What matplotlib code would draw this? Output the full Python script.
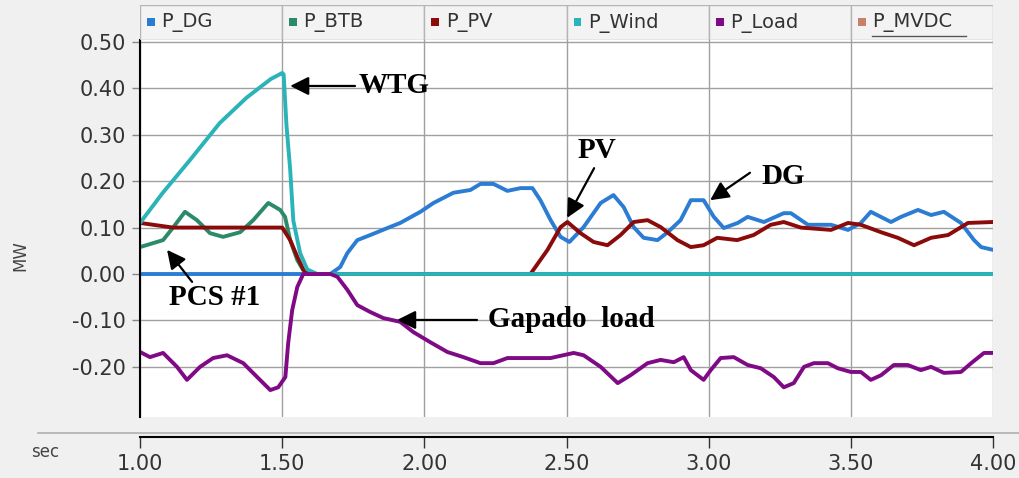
import matplotlib
matplotlib.use("Agg")
import matplotlib.pyplot as plt
from matplotlib.lines import Line2D
from matplotlib.patches import Rectangle

# ==============================
# dados (MW x sec)
# ==============================
dg_t = [1.00, 1.669, 1.704, 1.729, 1.764, 1.81, 1.87, 1.915, 1.986, 2.032, 2.102, 2.162, 2.197,
        2.243, 2.292, 2.338, 2.38, 2.408, 2.444, 2.479, 2.51, 2.56, 2.62, 2.665, 2.701, 2.736,
        2.771, 2.82, 2.856, 2.901, 2.937, 2.982, 3.018, 3.053, 3.102, 3.137, 3.194, 3.264, 3.289,
        3.349, 3.43, 3.49, 3.535, 3.57, 3.641, 3.676, 3.736, 3.782, 3.827, 3.887, 3.933, 3.958, 4.00]
dg_p = [0.0, 0.0, 0.015, 0.045, 0.073, 0.084, 0.099, 0.11, 0.134, 0.153, 0.175, 0.181, 0.194,
        0.194, 0.179, 0.185, 0.185, 0.159, 0.116, 0.08, 0.069, 0.101, 0.153, 0.17, 0.144, 0.101,
        0.078, 0.073, 0.09, 0.116, 0.159, 0.159, 0.123, 0.099, 0.11, 0.123, 0.112, 0.131, 0.131,
        0.106, 0.106, 0.095, 0.11, 0.134, 0.112, 0.123, 0.138, 0.127, 0.134, 0.11, 0.073, 0.058, 0.052]

btb_t = [1.00, 1.081, 1.116, 1.158, 1.20, 1.246, 1.292, 1.352, 1.398, 1.451, 1.493, 1.51, 1.528,
         1.553, 1.574, 1.60, 4.00]
btb_p = [0.058, 0.073, 0.10, 0.134, 0.116, 0.088, 0.08, 0.09, 0.116, 0.153, 0.138, 0.123, 0.073,
         0.03, 0.008, 0.0, 0.0]

pv_t = [1.00, 1.116, 1.30, 1.50, 1.528, 1.553, 1.574, 1.592, 2.373, 2.433, 2.479, 2.503, 2.549,
        2.595, 2.644, 2.69, 2.736, 2.785, 2.831, 2.89, 2.937, 2.982, 3.03, 3.10, 3.158, 3.218,
        3.264, 3.324, 3.43, 3.49, 3.535, 3.606, 3.665, 3.722, 3.782, 3.842, 3.912, 4.00]
pv_p = [0.11, 0.10, 0.10, 0.10, 0.073, 0.037, 0.01, 0.0, 0.0, 0.052, 0.101, 0.112, 0.088,
        0.069, 0.062, 0.084, 0.112, 0.116, 0.101, 0.073, 0.058, 0.062, 0.078, 0.073, 0.084, 0.106,
        0.112, 0.10, 0.095, 0.11, 0.106, 0.09, 0.078, 0.062, 0.078, 0.084, 0.11, 0.112]

wind_t = [1.00, 1.08, 1.175, 1.28, 1.375, 1.46, 1.50, 1.505, 1.515, 1.528, 1.539, 1.563, 1.588,
          1.623, 4.00]
wind_p = [0.11, 0.175, 0.245, 0.325, 0.38, 0.42, 0.433, 0.43, 0.32, 0.225, 0.115, 0.045, 0.01,
          0.0, 0.0]

load_t = [1.00, 1.035, 1.081, 1.13, 1.165, 1.211, 1.257, 1.306, 1.363, 1.412, 1.458, 1.486,
          1.511, 1.521, 1.535, 1.553, 1.574, 1.67, 1.694, 1.729, 1.764, 1.81, 1.856, 1.915, 1.961,
          2.021, 2.081, 2.137, 2.197, 2.243, 2.292, 2.363, 2.444, 2.525, 2.56, 2.62, 2.68, 2.725,
          2.785, 2.831, 2.877, 2.912, 2.937, 2.982, 3.007, 3.042, 3.088, 3.137, 3.183, 3.229,
          3.264, 3.299, 3.335, 3.37, 3.419, 3.454, 3.50, 3.535, 3.57, 3.606, 3.651, 3.70, 3.746,
          3.782, 3.827, 3.887, 3.923, 3.968, 4.00]
load_p = [-0.168, -0.179, -0.17, -0.20, -0.228, -0.20, -0.181, -0.175, -0.192, -0.222, -0.25,
          -0.244, -0.222, -0.149, -0.078, -0.028, 0.0, 0.0, -0.006, -0.034, -0.067, -0.082, -0.095,
          -0.103, -0.125, -0.147, -0.168, -0.179, -0.192, -0.192, -0.181, -0.181, -0.181, -0.17,
          -0.175, -0.20, -0.235, -0.218, -0.192, -0.185, -0.19, -0.179, -0.207, -0.228, -0.207,
          -0.181, -0.179, -0.196, -0.203, -0.222, -0.244, -0.235, -0.20, -0.192, -0.192, -0.203,
          -0.211, -0.211, -0.228, -0.218, -0.196, -0.196, -0.207, -0.20, -0.213, -0.211, -0.192,
          -0.17, -0.17]

labels = ["P_DG", "P_BTB", "P_PV", "P_Wind", "P_Load", "P_MVDC"]
colors = ["#2b7cd3", "#2a8a6a", "#8b0a0a", "#2ab3b8", "#800a85", "#c8806a"]

x_ticks = [1.0, 1.5, 2.0, 2.5, 3.0, 3.5, 4.0]
y_ticks = [-0.2, -0.1, 0.0, 0.1, 0.2, 0.3, 0.4, 0.5]

# ==============================
# figura
# ==============================
fig = plt.figure(figsize=(10.2, 4.78), dpi=100)
fig.patch.set_facecolor("#f0f0f0")

L, W = 0.1373, 0.8363
ax = fig.add_axes([L, 0.1276, W, 0.7887])
ax.set_facecolor("white")

series = [(dg_t, dg_p), (btb_t, btb_p), (pv_t, pv_p), (wind_t, wind_p), (load_t, load_p)]
for (t, p), c in zip(series, colors):
    ax.plot(t, p, color=c, lw=2.8, solid_joinstyle="round")

ax.set_xlim(1.0, 4.0)
ax.set_ylim(-0.308, 0.504)
ax.set_xticks(x_ticks)
ax.set_yticks(y_ticks)
ax.set_yticklabels([f"{v:.2f}" for v in y_ticks], fontsize=15, color="#333333")
ax.tick_params(axis="x", length=0, labelbottom=False)
ax.tick_params(axis="y", length=6, width=1, color="#888888", pad=4)
ax.grid(True, color="#a0a0a0", lw=1.0)
ax.set_axisbelow(True)
for s in ["top", "right", "bottom"]:
    ax.spines[s].set_visible(False)
ax.spines["left"].set_color("black")
ax.spines["left"].set_linewidth(1.5)

# anotações
bold = dict(family="Liberation Serif", fontweight="bold", fontsize=21, color="black")
arrow = dict(arrowstyle="-|>", mutation_scale=28, lw=1.6, color="black", shrinkA=0, shrinkB=0)
notes = [
    ("WTG", (1.767, 0.405), "left", (1.756, 0.405), (1.528, 0.405)),
    ("PV", (2.607, 0.267), "center", (2.597, 0.228), (2.502, 0.121)),
    ("DG", (3.262, 0.211), "center", (3.145, 0.218), (3.005, 0.159)),
    ("PCS #1", (1.264, -0.05), "center", (1.183, -0.017), (1.095, 0.052)),
    ("Gapado  load", (2.224, -0.099), "left", (2.185, -0.099), (1.904, -0.099)),
]
for txt, pos, ha, tail, tip in notes:
    ax.annotate("", xy=tip, xytext=tail, arrowprops=arrow)
    ax.text(pos[0], pos[1], txt, ha=ha, va="center", **bold)

# ==============================
# barra de legenda no topo
# ==============================
leg = fig.add_axes([L, 0.9163, W, 0.0732])
leg.set_xlim(1.0, 4.0)
leg.set_ylim(0, 1)
leg.axis("off")
for i, (lab, c) in enumerate(zip(labels, colors)):
    x0 = 1.0 + 0.5 * i
    leg.add_patch(Rectangle((x0, 0), 0.5, 1, facecolor="#f3f3f3", edgecolor="#b5b5b5", lw=1.0))
    leg.add_patch(Rectangle((x0 + 0.025, 0.40), 0.027, 0.22, facecolor=c, edgecolor="none"))
    leg.text(x0 + 0.075, 0.5, lab, fontsize=14, color="#333333", va="center", ha="left")
# sublinhado do P_MVDC (foco no print original)
leg.plot([3.575, 3.905], [0.12, 0.12], color="#555555", lw=1.0)

# ==============================
# eixo x separado
# ==============================
fig.add_artist(Line2D([0.037, 1.0], [0.094, 0.094], color="#b0b0b0", lw=1.2))
axx = fig.add_axes([L, 0.0858, W, 0.0001])
axx.set_xlim(1.0, 4.0)
axx.set_xticks(x_ticks)
axx.set_xticklabels([f"{v:.2f}" for v in x_ticks], fontsize=15, color="#333333")
axx.set_yticks([])
axx.patch.set_alpha(0)
for s in ["top", "right", "left"]:
    axx.spines[s].set_visible(False)
axx.spines["bottom"].set_linewidth(1.5)
axx.tick_params(axis="x", direction="out", length=8, width=1, color="#333333", pad=4)

fig.text(0.044, 0.054, "sec", fontsize=12, color="#444444", ha="center", va="center")
fig.text(0.02, 0.466, "MW", fontsize=12, color="#444444", rotation=90, ha="center", va="center")

fig.savefig("out.png", dpi=100, facecolor=fig.get_facecolor())
